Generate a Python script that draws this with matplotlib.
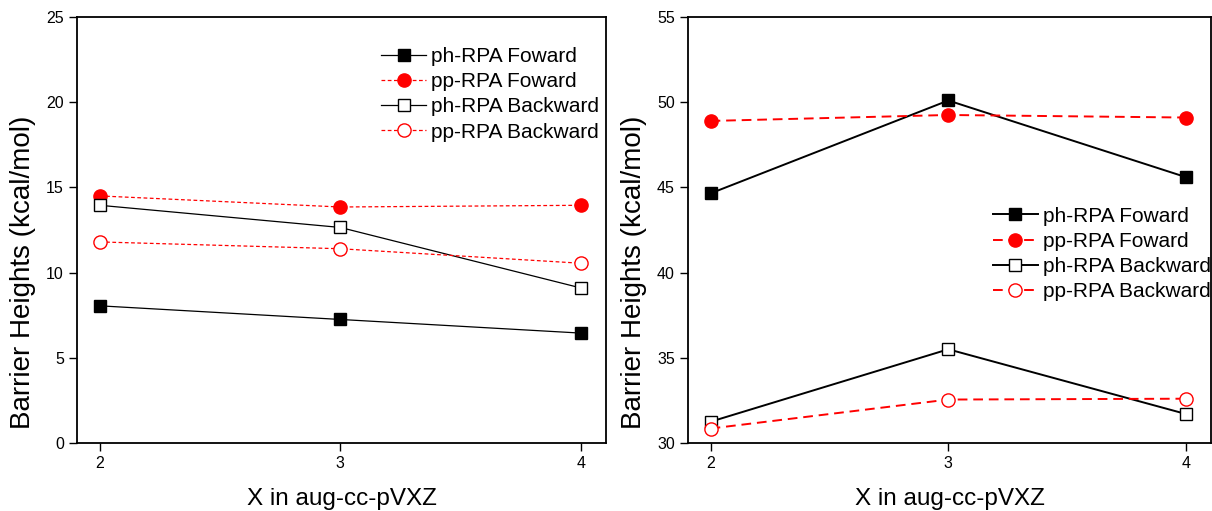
import matplotlib.pyplot as plt

plt.rcParams['font.family'] = ['Liberation Sans', 'DejaVu Sans']

basis = [2, 3, 4]

# left panel
ph_fwd_l = [8.05, 7.25, 6.45]
pp_fwd_l = [14.5, 13.85, 13.95]
ph_bwd_l = [13.95, 12.65, 9.1]
pp_bwd_l = [11.8, 11.4, 10.55]

# right panel
ph_fwd_r = [44.65, 50.1, 45.6]
pp_fwd_r = [48.9, 49.25, 49.1]
ph_bwd_r = [31.25, 35.5, 31.7]
pp_bwd_r = [30.85, 32.55, 32.6]

labels = ['ph-RPA Foward', 'pp-RPA Foward', 'ph-RPA Backward', 'pp-RPA Backward']

W, H = 1212, 511
fig = plt.figure(figsize=(W / 100, H / 100), dpi=100)
ax1 = fig.add_axes([77 / W, (H - 443) / H, (606 - 77) / W, (443 - 17) / H])
ax2 = fig.add_axes([688 / W, (H - 443) / H, (1211 - 688) / W, (443 - 17) / H])


def draw(ax, series, lw, dash, ylim, yticks, leg_xy, ylab_y):
    ph_f, pp_f, ph_b, pp_b = series
    ax.plot(basis, ph_f, color='black', lw=lw, marker='s', ms=9, label=labels[0])
    ax.plot(basis, pp_f, color='red', lw=lw, ls=dash, marker='o', ms=9.5, label=labels[1])
    ax.plot(basis, ph_b, color='black', lw=lw, marker='s', ms=9, mfc='white', label=labels[2])
    ax.plot(basis, pp_b, color='red', lw=lw, ls=dash, marker='o', ms=9.5, mfc='white', label=labels[3])
    ax.set_xlim(1.905, 4.105)
    ax.set_ylim(*ylim)
    ax.set_xticks(basis)
    ax.set_yticks(yticks)
    ax.tick_params(direction='out', length=6, width=1, labelsize=11.5, top=False, right=False)
    for s in ax.spines.values():
        s.set_linewidth(1.3)
    ax.set_xlabel('X in aug-cc-pVXZ', fontsize=17.5, labelpad=12)
    ax.set_ylabel('Barrier Heights (kcal/mol)', fontsize=20)
    ax.yaxis.set_label_coords(-0.078, ylab_y)
    ax.legend(loc='upper left', bbox_to_anchor=leg_xy, frameon=False, fontsize=15,
              handlelength=2.15, handletextpad=0.25, labelspacing=0.3,
              borderpad=0, borderaxespad=0)


draw(ax1, (ph_fwd_l, pp_fwd_l, ph_bwd_l, pp_bwd_l), 0.9, (0, (3, 2)), (0, 25),
     [0, 5, 10, 15, 20, 25], (0.575, 0.93), 0.40)
draw(ax2, (ph_fwd_r, pp_fwd_r, ph_bwd_r, pp_bwd_r), 1.4, (0, (5, 3)), (30, 55),
     [30, 35, 40, 45, 50, 55], (0.583, 0.555), 0.40)

fig.savefig('out.png', dpi=100)
